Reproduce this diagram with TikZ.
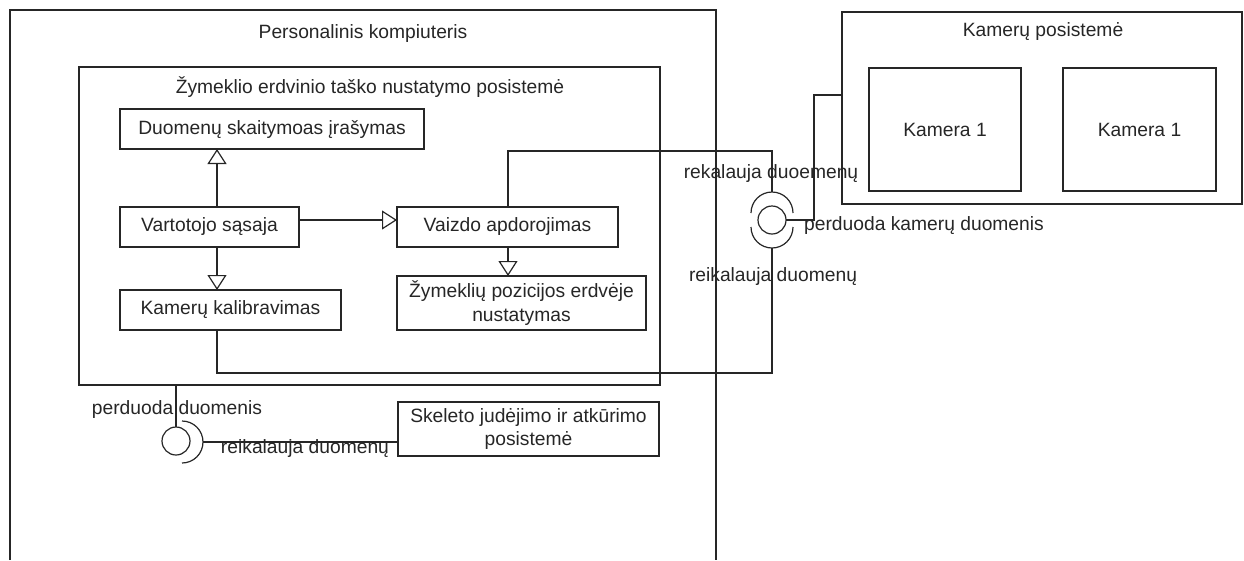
\documentclass[tikz,border=0pt]{standalone}
\usepackage{fontspec}
\setmainfont{Liberation Sans}
\usetikzlibrary{arrows.meta}
\begin{document}
\begin{tikzpicture}[x=1pt,y=-1pt,
  line width=1.2pt,
  txt/.style={font=\fontsize{19.25}{23.5}\selectfont, text=black!85, inner sep=0pt},
  box/.style={draw=black!85, rectangle, inner sep=0pt, outer sep=0pt, txt, align=center},
  gen/.style={draw=black!85, -{Triangle[open,length=15pt,width=19pt]}},
  wire/.style={draw=black!85},
  ball/.style={draw=black!85, circle, minimum size=28pt, inner sep=0pt, outer sep=0pt}]
\useasboundingbox (0,0) rectangle (1244,560);

% Personal computer frame (runs past the lower edge)
\draw[wire] (10,560) -- (10,10) -- (716,10) -- (716,560);
\node[txt] (pctitle) at (363,34) {Personalinis kompiuteris};

% Marker position subsystem
\node[box, minimum width=581pt, minimum height=318pt] (zyms) at (369.5,226) {};
\node[txt] (zymstitle) at (370,87) {Žymeklio erdvinio taško nustatymo posistemė};

\node[box, minimum width=304pt, minimum height=40pt] (duom) at (272,129) {Duomenų skaitymoas įrašymas};
\node[box, minimum width=179pt, minimum height=40pt] (vart) at (209.5,227) {Vartotojo sąsaja};
\node[box, minimum width=221pt, minimum height=40pt] (kalib) at (230.5,310) {Kamerų kalibravimas};
\node[box, minimum width=221pt, minimum height=40pt] (vaizdo) at (507.5,227) {Vaizdo apdorojimas};
\node[box, minimum width=249pt, minimum height=54pt] (zympoz) at (521.5,303) {Žymeklių pozicijos erdvėje\\nustatymas};

% Skeleton subsystem
\node[box, minimum width=261pt, minimum height=54pt] (skel) at (528.5,429) {Skeleto judėjimo ir atkūrimo\\posistemė};

% Camera subsystem
\node[box, minimum width=400pt, minimum height=192pt] (kampos) at (1042,108) {};
\node[txt] (kampostitle) at (1043,32) {Kamerų posistemė};
\node[box, minimum width=152pt, minimum height=123pt] (kam1) at (945,129.5) {Kamera 1};
\node[box, minimum width=153pt, minimum height=123pt] (kam2) at (1139.5,129.5) {Kamera 1};

% Helper coordinates for connector routing
\coordinate (cx1) at (217,0);
\coordinate (cx2) at (508,0);
\coordinate (cy1) at (0,220);
\coordinate (cy2) at (0,95);
\coordinate (cy3) at (0,442);

% Generalisation arrows inside the subsystem
\draw[gen] (vart.north -| cx1) -- (duom.south -| cx1);
\draw[gen] (vart.south -| cx1) -- (kalib.north -| cx1);
\draw[gen] (vart.east |- cy1) -- (vaizdo.west |- cy1);
\draw[gen] (vaizdo.south -| cx2) -- (zympoz.north -| cx2);

% Camera interface: ball with two sockets
\node[ball] (ball1) at (772,220) {};
\coordinate (s1top) at (772,192);
\coordinate (s2bot) at (772,248);
\draw[wire] (751,213) arc[start angle=180, end angle=360, radius=21];
\draw[wire] (793,227) arc[start angle=0, end angle=180, radius=21];
\draw[wire] (vaizdo.north -| cx2) -- ++(0,-56) -| (s1top);
\draw[wire] (kalib.south -| cx1) -- ++(0,43) -| (s2bot);
\draw[wire] (ball1.east) -- ++(28,0) |- (kampos.west |- cy2);

\node[txt] (l1) at (771,174) {rekalauja duoemenų};
\node[txt] (l2) at (924,226) {perduoda kamerų duomenis};
\node[txt] (l3) at (773,277) {reikalauja duomenų};

% Skeleton interface: ball with one socket
\node[ball] (ball2) at (176,441) {};
\coordinate (s3end) at (203,442);
\draw[wire] (zyms.south -| ball2) -- (ball2.north);
\draw[wire] (182,421) arc[start angle=-90, end angle=90, radius=21];
\draw[wire] (s3end) -- (skel.west |- cy3);

\node[txt] (l4) at (177,410) {perduoda duomenis};
\node[txt] (l5) at (305,449) {reikalauja duomenų};
\end{tikzpicture}
\end{document}
